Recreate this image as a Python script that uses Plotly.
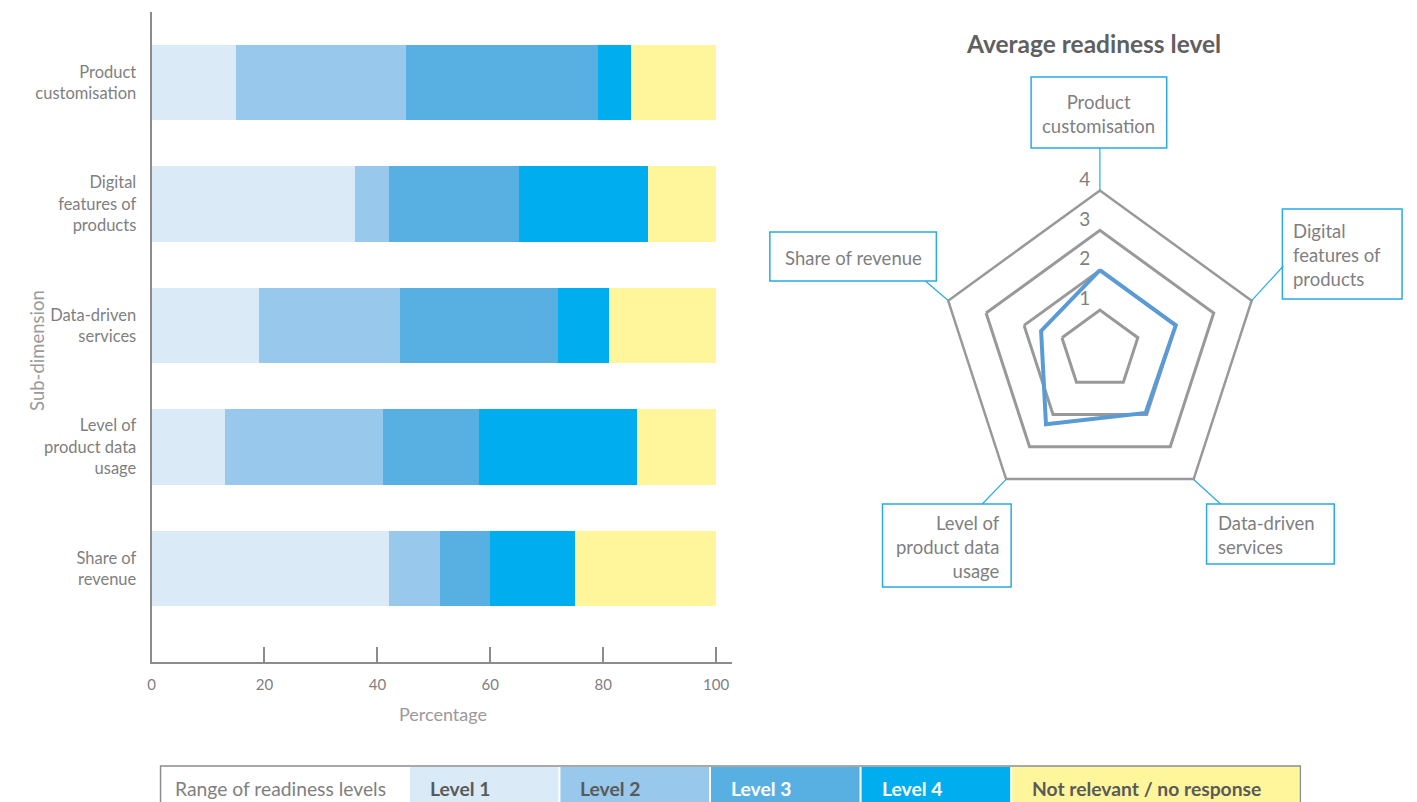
import math
import plotly.graph_objects as go

W, H = 1417, 802
FONT = "Lato"
GREY_TXT = "#7f7f7f"
DARK_TXT = "#5a5a5a"
LINE_BLUE = "#29abe2"

# ---- data -------------------------------------------------------------
categories = [
    "Product customisation",
    "Digital features of products",
    "Data-driven services",
    "Level of product data usage",
    "Share of revenue",
]
bar_ticktext = [
    "Product<br>customisation",
    "Digital<br>features of<br>products",
    "Data-driven<br>services",
    "Level of<br>product data<br>usage",
    "Share of<br>revenue",
]
level_names = ["Level 1", "Level 2", "Level 3", "Level 4", "Not relevant / no response"]
level1 = [15, 36, 19, 13, 42]
level2 = [30, 6, 25, 28, 9]
level3 = [34, 23, 28, 17, 9]
level4 = [6, 23, 9, 28, 15]
not_relevant = [15, 12, 19, 14, 25]

radar_values = [2.0, 2.0, 1.95, 2.3, 1.55]
radial_ticks = [1, 2, 3, 4]
x_ticks = [0, 20, 40, 60, 80, 100]

level_colors = ["#dbeaf7", "#98c8eb", "#58b0e2", "#00aeef", "#fff69b"]
legend_text_colors = [DARK_TXT, DARK_TXT, "#ffffff", "#ffffff", DARK_TXT]


def px(x):
    return x / W


def py(y):
    return 1 - y / H


fig = go.Figure()

# ---- stacked horizontal bars -------------------------------------------
series = [level1, level2, level3, level4, not_relevant]
for name, vals, col in zip(level_names, series, level_colors):
    fig.add_trace(go.Bar(
        y=bar_ticktext, x=vals, orientation="h", name=name,
        marker=dict(color=col, line=dict(width=0)),
        width=0.62, showlegend=False, hoverinfo="x+name",
    ))

fig.update_layout(
    barmode="stack",
    xaxis=dict(
        domain=[px(148), px(730)], range=[0, 102.8],
        tickvals=x_ticks, ticks="inside", ticklen=15, tickwidth=1.5,
        tickcolor="#8c8c8c", showline=True, linecolor="#8c8c8c", linewidth=2,
        showgrid=False, zeroline=False, ticklabelstandoff=8,
        tickfont=dict(family=FONT, size=15, color=GREY_TXT),
        anchor="y",
    ),
    yaxis=dict(
        domain=[py(662), py(12)], range=[4.77, -0.58],
        type="category", categoryorder="array", categoryarray=bar_ticktext,
        showline=True, linecolor="#8c8c8c", linewidth=2,
        showgrid=False, zeroline=False, ticks="", ticklabelstandoff=10,
        tickfont=dict(family=FONT, size=16.5, color=GREY_TXT),
        anchor="x",
    ),
)

# ---- radar -------------------------------------------------------------
fig.add_trace(go.Scatterpolar(
    r=radar_values + radar_values[:1],
    theta=categories + categories[:1],
    mode="lines", line=dict(color="#5b9bd5", width=4),
    showlegend=False, subplot="polar", hoverinfo="r+theta",
))
# radial scale labels, set along the top spoke
fig.add_trace(go.Scatterpolar(
    r=radial_ticks, theta=[categories[0]] * len(radial_ticks),
    mode="text", text=[f"{v}\u00a0\u00a0" for v in radial_ticks],
    textposition="top left",
    textfont=dict(family=FONT, size=19, color=GREY_TXT),
    showlegend=False, subplot="polar", hoverinfo="skip",
))

cx, cy, R = 1099, 350, 160
fig.update_layout(
    polar=dict(
        domain=dict(x=[px(cx - R), px(cx + R)], y=[py(cy + R), py(cy - R)]),
        gridshape="linear", bgcolor="rgba(0,0,0,0)",
        radialaxis=dict(
            range=[0, 4], tickvals=radial_ticks, angle=90, showticklabels=False,
            showline=False, ticks="", gridcolor="#999999", gridwidth=2.5,
        ),
        angularaxis=dict(
            rotation=90, direction="clockwise", showticklabels=False, ticks="",
            showgrid=False, showline=True, linecolor="#999999", linewidth=2.5,
        ),
    )
)

annotations = []
shapes = []

annotations.append(dict(
    text="<b>Average readiness level</b>", x=px(1093), y=py(43),
    xref="paper", yref="paper", xanchor="center", yanchor="middle", showarrow=False,
    font=dict(family=FONT, size=24.5, color="#606060"),
))

# boxed spoke labels: (text, left, top, right, bottom, align)
boxes = [
    ("Product<br>customisation", 1030, 77, 1166, 148, "center"),
    ("Digital<br>features of<br>products", 1282, 209, 1402, 299, "left"),
    ("Data-driven<br>services", 1206, 504, 1334, 564, "left"),
    ("Level of<br>product data<br>usage", 881, 504, 1010, 587, "right"),
    ("Share of revenue", 768, 232, 935, 281, "center"),
]
leader_ends = [(1099, 148), (1283, 266), (1220, 504), (981, 504), (924, 281)]
inset = 9
for i, (txt, l, t, r, b, al) in enumerate(boxes):
    shapes.append(dict(
        type="rect", xref="paper", yref="paper",
        x0=px(l), x1=px(r), y0=py(b), y1=py(t),
        line=dict(color=LINE_BLUE, width=1.5), fillcolor="white",
    ))
    if al == "left":
        tx, xa = l + inset, "left"
    elif al == "right":
        tx, xa = r - inset, "right"
    else:
        tx, xa = (l + r) / 2, "center"
    annotations.append(dict(
        text=txt, x=px(tx), y=py((t + b) / 2 + 1), xref="paper", yref="paper",
        xanchor=xa, yanchor="middle", showarrow=False, align=al,
        font=dict(family=FONT, size=18.5, color=GREY_TXT),
    ))
    ang = math.radians(90 - 72 * i)
    vx = cx + R * math.cos(ang)
    vy = cy - R * math.sin(ang)
    ex, ey = leader_ends[i]
    shapes.append(dict(
        type="line", xref="paper", yref="paper",
        x0=px(vx), y0=py(vy), x1=px(ex), y1=py(ey),
        line=dict(color=LINE_BLUE, width=1.2),
    ))

# axis titles
annotations.append(dict(
    text="Sub-dimension", x=px(33), y=py(350), xref="paper", yref="paper",
    xanchor="center", yanchor="middle",
    textangle=-90, showarrow=False, font=dict(family=FONT, size=18.5, color="#9a9a9a"),
))
annotations.append(dict(
    text="Percentage", x=px(440), y=py(714), xref="paper", yref="paper",
    xanchor="center", yanchor="middle",
    showarrow=False, font=dict(family=FONT, size=18, color="#9a9a9a"),
))

# ---- legend strip ------------------------------------------------------
cell_edges = [157, 406, 557, 708, 859, 1010, 1300]
leg_top, leg_bot = 766, 830
shapes.append(dict(
    type="rect", xref="paper", yref="paper",
    x0=px(cell_edges[0]), x1=px(cell_edges[-1]), y0=py(leg_bot), y1=py(leg_top),
    line=dict(color="#8c8c8c", width=1.5), fillcolor="white", layer="above",
))
annotations.append(dict(
    text="Range of readiness levels", x=px(cell_edges[0] + 12), y=py(788),
    xref="paper", yref="paper", xanchor="left", yanchor="middle", showarrow=False,
    font=dict(family=FONT, size=19.3, color=GREY_TXT),
))
for i, (name, col, tcol) in enumerate(zip(level_names, level_colors, legend_text_colors)):
    x0, x1 = cell_edges[i + 1], cell_edges[i + 2]
    shapes.append(dict(
        type="rect", xref="paper", yref="paper",
        x0=px(x0 + 1), x1=px(x1 - 1), y0=py(leg_bot), y1=py(leg_top + 1),
        line=dict(width=0), fillcolor=col, layer="above",
    ))
    annotations.append(dict(
        text=f"<b>{name}</b>", x=px(x0 + 19), y=py(788),
        xref="paper", yref="paper", xanchor="left", yanchor="middle", showarrow=False,
        font=dict(family=FONT, size=19.3, color=tcol),
    ))

fig.update_layout(
    width=W, height=H, margin=dict(l=0, r=0, t=0, b=0),
    paper_bgcolor="white", plot_bgcolor="white",
    annotations=annotations, shapes=shapes,
    font=dict(family=FONT),
)

fig.write_html("out.html")
